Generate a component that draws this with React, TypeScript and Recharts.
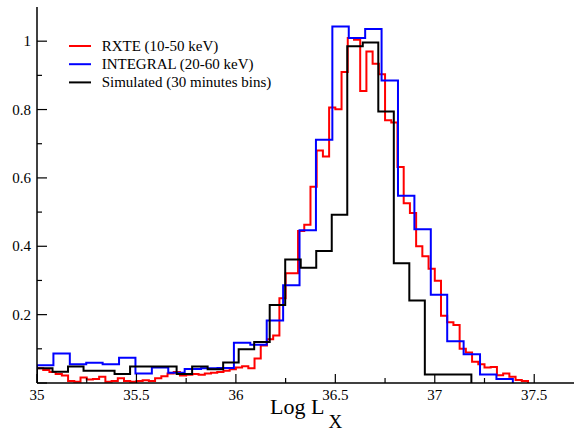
import React from 'react';
import { LineChart, Line, XAxis, YAxis, Legend } from 'recharts';

// ---- Data (histogram bins: start edge, bin width, normalised counts) ----
const rxteName = 'RXTE (10-50 keV)';
const rxteStart = 35.0;
const rxteBinWidth = 0.03125;
const rxteValues = [
  0.043, 0.038, 0.032, 0.026, 0.022, 0.006, 0.004, 0.016, 0.010, 0.012,
  0.018, 0.004, 0.006, 0.014, 0.006, 0.004, 0.006, 0.008, 0.006, 0.014,
  0.020, 0.028, 0.032, 0.022, 0.024, 0.026, 0.024, 0.028, 0.030, 0.032,
  0.036, 0.040, 0.045, 0.049, 0.043, 0.072, 0.110, 0.128, 0.139, 0.248,
  0.321, 0.321, 0.445, 0.463, 0.574, 0.680, 0.663, 0.806, 0.801, 0.910,
  1.009, 1.004, 0.854, 0.970, 0.934, 0.903, 0.769, 0.762, 0.632, 0.526,
  0.497, 0.400, 0.371, 0.334, 0.299, 0.197, 0.178, 0.170, 0.100, 0.089,
  0.062, 0.055, 0.045, 0.047, 0.023, 0.028, 0.018, 0.009, 0.006,
];

const integralName = 'INTEGRAL (20-60 keV)';
const integralStart = 35.0;
const integralBinWidth = 0.0825;
const integralValues = [
  0.052, 0.086, 0.055, 0.059, 0.055, 0.074, 0.028, 0.045, 0.030, 0.041,
  0.043, 0.044, 0.118, 0.112, 0.183, 0.286, 0.447, 0.712, 1.043, 1.009,
  1.036, 0.885, 0.548, 0.450, 0.258, 0.122, 0.084, 0.025, 0.012,
];

const simName = 'Simulated (30 minutes bins)';
const simStart = 35.0;
const simBinWidth = 0.078;
const simValues = [
  0.043, 0.033, 0.048, 0.036, 0.036, 0.026, 0.048, 0.048, 0.048, 0.026,
  0.048, 0.040, 0.060, 0.099, 0.120, 0.228, 0.361, 0.337, 0.386, 0.492,
  0.985, 0.996, 0.794, 0.350, 0.241, 0.025, 0.025, 0.025,
];

const legendOrder = [rxteName, integralName, simName];

const xMajorTicks = [35, 35.5, 36, 36.5, 37, 37.5];
const xMinorTicks = [35.25, 35.75, 36.25, 36.75, 37.25];
const yMajorTicks = [0, 0.2, 0.4, 0.6, 0.8, 1];
const yMinorTicks = [0.1, 0.3, 0.5, 0.7, 0.9];
const yLabelledTicks = [0.2, 0.4, 0.6, 0.8, 1];

const xDomain: [number, number] = [35, 37.7];
const yDomain: [number, number] = [0, 1.1];

// ---- helpers ----
function toSteps(start: number, width: number, values: number[]) {
  const pts: { x: number; y: number }[] = [{ x: start, y: 0 }];
  values.forEach((v, i) => pts.push({ x: start + i * width, y: v }));
  pts.push({ x: start + values.length * width, y: 0 });
  return pts;
}

const rxteData = toSteps(rxteStart, rxteBinWidth, rxteValues);
const integralData = toSteps(integralStart, integralBinWidth, integralValues);
const simData = toSteps(simStart, simBinWidth, simValues);

const FONT = "'Liberation Serif', 'Times New Roman', 'DejaVu Serif', serif";
const textStyle: React.CSSProperties = { fontFamily: FONT };
const isIn = (arr: number[], v: number) => arr.some((t) => Math.abs(t - v) < 1e-6);

const xTicksAll = [...xMajorTicks, ...xMinorTicks].sort((a, b) => a - b);
const yTicksAll = [...yMajorTicks, ...yMinorTicks].sort((a, b) => a - b);

const BottomTick = (props: any) => {
  const { x, y, payload } = props;
  const v = payload.value;
  const major = isIn(xMajorTicks, v);
  return (
    <g>
      <line x1={x} x2={x} y1={y} y2={y - (major ? 9 : 5)} stroke="#000" strokeWidth={1.2} />
      {major && (
        <text x={x} y={y + 17} textAnchor="middle" style={textStyle} fontSize={15} fill="#000">
          {String(v)}
        </text>
      )}
    </g>
  );
};

const TopTick = (props: any) => {
  const { x, y, payload } = props;
  const major = isIn(xMajorTicks, payload.value);
  return <line x1={x} x2={x} y1={y} y2={y + (major ? 9 : 5)} stroke="#000" strokeWidth={1.2} />;
};

const LeftTick = (props: any) => {
  const { x, y, payload } = props;
  const v = payload.value;
  const major = isIn(yMajorTicks, v);
  return (
    <g>
      <line x1={x} x2={x + (major ? 10 : 5)} y1={y} y2={y} stroke="#000" strokeWidth={1.2} />
      {isIn(yLabelledTicks, v) && (
        <text x={x - 6} y={y + 5} textAnchor="end" style={textStyle} fontSize={15} fill="#000">
          {String(Math.round(v * 10) / 10)}
        </text>
      )}
    </g>
  );
};

const RightTick = (props: any) => {
  const { x, y, payload } = props;
  const major = isIn(yMajorTicks, payload.value);
  return <line x1={x} x2={x - (major ? 10 : 5)} y1={y} y2={y} stroke="#000" strokeWidth={1.2} />;
};

const XTitle = (props: any) => {
  const vb = props.viewBox || { x: 37, y: 383, width: 537, height: 30 };
  const cx = vb.x + vb.width / 2;
  return (
    <text x={cx - 35.5} y={vb.y + 30.5} style={textStyle} fontSize={22} fill="#000">
      Log L
      <tspan dx={4} dy={14} fontSize={19}>X</tspan>
    </text>
  );
};

const LegendContent = (props: any) => {
  const payload = [...(props.payload || [])].sort(
    (a: any, b: any) => legendOrder.indexOf(a.value) - legendOrder.indexOf(b.value)
  );
  return (
    <svg width={240} height={62} style={{ display: 'block' }}>
      {payload.map((p: any, i: number) => {
        const cy = 10 + i * 18.2;
        return (
          <g key={i}>
            <line x1={9} x2={31} y1={cy} y2={cy} stroke={p.color} strokeWidth={2} />
            <text x={41.7} y={cy + 4.8} style={textStyle} fontSize={15} fill="#000">
              {p.value}
            </text>
          </g>
        );
      })}
    </svg>
  );
};

export default function App() {
  return (
    <div style={{ position: 'absolute', left: 0, top: 0, width: 585, height: 432, background: '#fff', fontFamily: FONT }}>
      <LineChart width={585} height={432} margin={{ top: 7, right: 11, bottom: 19, left: 7 }}>
        <XAxis
          xAxisId={0}
          type="number"
          dataKey="x"
          domain={xDomain}
          allowDataOverflow
          ticks={xTicksAll}
          interval={0}
          tick={<BottomTick />}
          tickLine={false}
          tickSize={0}
          tickMargin={0}
          height={30}
          axisLine={{ stroke: '#000', strokeWidth: 1.5 }}
          label={(p: any) => <XTitle {...p} />}
        />
        <XAxis
          xAxisId="top"
          orientation="top"
          type="number"
          dataKey="x"
          domain={xDomain}
          allowDataOverflow
          ticks={xTicksAll}
          interval={0}
          tick={<TopTick />}
          tickLine={false}
          tickSize={0}
          tickMargin={0}
          height={0}
          axisLine={{ stroke: '#000', strokeWidth: 1.5 }}
        />
        <YAxis
          yAxisId={0}
          type="number"
          domain={yDomain}
          allowDataOverflow
          ticks={yTicksAll}
          interval={0}
          tick={<LeftTick />}
          tickLine={false}
          tickSize={0}
          tickMargin={0}
          width={30}
          axisLine={{ stroke: '#000', strokeWidth: 1.5 }}
        />
        <YAxis
          yAxisId="right"
          orientation="right"
          type="number"
          domain={yDomain}
          allowDataOverflow
          ticks={yTicksAll}
          interval={0}
          tick={<RightTick />}
          tickLine={false}
          tickSize={0}
          tickMargin={0}
          width={0}
          axisLine={{ stroke: '#000', strokeWidth: 1.5 }}
        />
        <Legend
          layout="vertical"
          align="center"
          verticalAlign="middle"
          wrapperStyle={{ position: 'absolute', left: 60, top: 36, width: 240, height: 62 }}
          content={(p: any) => <LegendContent {...p} />}
        />
        <Line
          data={rxteData}
          dataKey="y"
          name={rxteName}
          type="stepAfter"
          stroke="#ff0000"
          strokeWidth={2}
          dot={false}
          activeDot={false}
          isAnimationActive={false}
          legendType="line"
        />
        <Line
          data={integralData}
          dataKey="y"
          name={integralName}
          type="stepAfter"
          stroke="#0000ff"
          strokeWidth={2}
          dot={false}
          activeDot={false}
          isAnimationActive={false}
          legendType="line"
        />
        <Line
          data={simData}
          dataKey="y"
          name={simName}
          type="stepAfter"
          stroke="#000000"
          strokeWidth={2}
          dot={false}
          activeDot={false}
          isAnimationActive={false}
          legendType="line"
        />
      </LineChart>
    </div>
  );
}
